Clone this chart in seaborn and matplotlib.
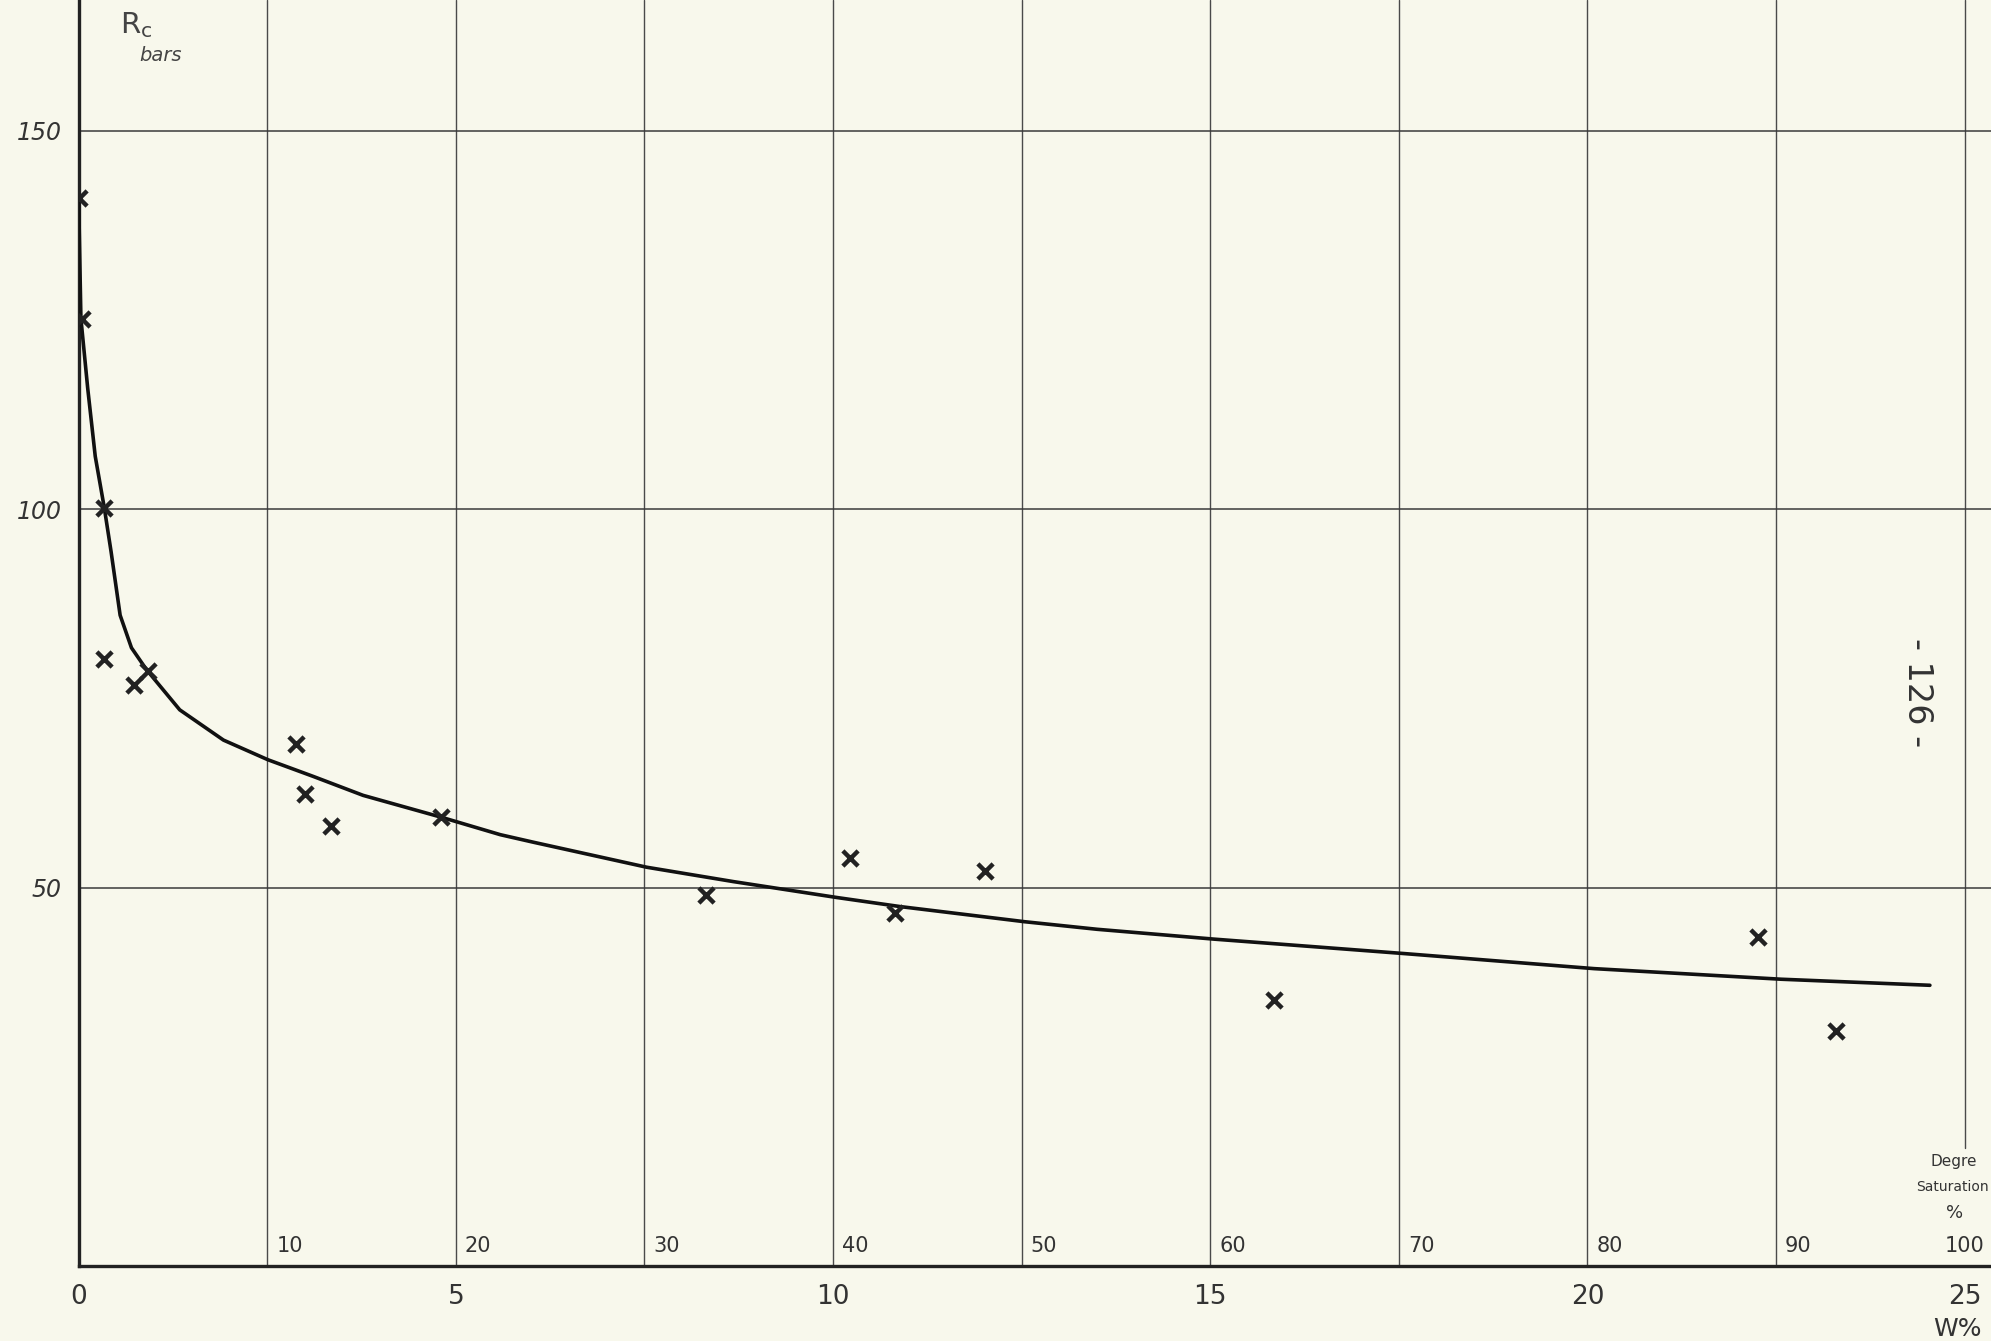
import pandas as pd
import seaborn as sns
import matplotlib.pyplot as plt

# measured points : water content W % / compressive strength Rc (bars)
w_points = [0.0, 0.05, 0.34, 0.34, 0.73, 0.92, 2.88, 3.00, 3.35, 4.80,
            8.32, 10.22, 10.82, 12.02, 15.84, 22.26, 23.30]
rc_points = [141.2, 125.2, 100.2, 80.2, 76.8, 78.6, 69.0, 62.4, 58.1, 59.4,
             49.0, 53.9, 46.6, 52.2, 35.2, 43.5, 31.0]

# hand drawn mean curve
w_curve = [0.0, 0.03, 0.12, 0.22, 0.34, 0.43, 0.55, 0.70, 0.90, 1.34, 1.92,
           2.51, 3.11, 3.77, 4.81, 5.59, 6.03, 7.53, 8.68, 10.05, 10.89,
           12.54, 13.5, 15.05, 17.56, 20.09, 22.57, 24.54]
rc_curve = [141.0, 125.2, 116.0, 107.0, 100.2, 94.4, 86.0, 81.7, 78.8, 73.5, 69.5,
            66.9, 64.7, 62.2, 59.3, 57.0, 56.0, 52.7, 50.8, 48.7, 47.5,
            45.5, 44.5, 43.2, 41.3, 39.3, 37.9, 37.1]

# secondary scale : degree of saturation %
sat_labels = [10, 20, 30, 40, 50, 60, 70, 80, 90, 100]
sat_w = [2.5, 5, 7.5, 10, 12.5, 15, 17.5, 20, 22.5, 25]
w_labels = [0, 5, 10, 15, 20, 25]
rc_labels = [50, 100, 150]

paper = '#f8f8ec'
ink = '#222222'
pencil = '#333333'

sns.set_style('white')
plt.rcParams['font.family'] = ['DejaVu Sans']

fig = plt.figure(figsize=(19.91, 13.41), dpi=100)
fig.patch.set_facecolor(paper)
ax = fig.add_axes([0.0395, 0.0559, 0.9605, 0.9441])
ax.set_facecolor(paper)
ax.set_xlim(0, 25.35)
ax.set_ylim(0, 167.3)

# grid of the sheet
for w in sat_w[:-1]:
    ax.axvline(w, color='#4a4a4a', lw=1.0, zorder=1)
ax.axvline(sat_w[-1], ymin=15.6 / 167.3, color='#4a4a4a', lw=1.0, zorder=1)
for r in rc_labels:
    ax.axhline(r, color='#3a3a3a', lw=1.1, zorder=1)

# curve and points
sns.lineplot(x=w_curve, y=rc_curve, ax=ax, color='#111111', lw=2.6,
             sort=False, estimator=None, zorder=3)
sns.scatterplot(x=w_points, y=rc_points, ax=ax, marker='x', s=120,
                color=ink, linewidth=3.2, zorder=4)

# axes
for side in ['top', 'right']:
    ax.spines[side].set_visible(False)
for side in ['left', 'bottom']:
    ax.spines[side].set_color(ink)
    ax.spines[side].set_linewidth(2.4)

ax.set_xticks([0] + sat_w)
ax.set_xticklabels([str(int(w)) if w in w_labels else '' for w in [0] + sat_w],
                   fontsize=19)
ax.set_yticks(rc_labels)
ax.set_yticklabels([str(r) for r in rc_labels], fontsize=17, style='italic')
ax.tick_params(axis='x', direction='out', length=10, width=1.6, pad=3, colors=ink,
               labelcolor=pencil)
ax.tick_params(axis='y', direction='out', length=8, width=1.6, pad=4, colors=ink,
               labelcolor=pencil)
ax.set_xlabel('')
ax.set_ylabel('')

# saturation labels above the W axis
for w, s in zip(sat_w, sat_labels):
    if s == 100:
        ax.text(w, 1.3, str(s), ha='center', va='bottom', fontsize=15, color=pencil)
    else:
        ax.text(w + 0.12, 1.3, str(s), ha='left', va='bottom', fontsize=15, color=pencil)

ax.text(24.85, 13.8, 'Degre', ha='center', va='center', fontsize=11, color=pencil)
ax.text(0.999, 10.4 / 167.3, 'Saturation', transform=ax.transAxes, ha='right',
        va='center', fontsize=10, color=pencil)
ax.text(24.87, 7.0, '%', ha='center', va='center', fontsize=13, color=pencil)
ax.text(24.9, -8.3, 'W%', ha='center', va='center', fontsize=18, color=pencil,
        clip_on=False)

ax.text(0.55, 164.0, r'R$_\mathregular{c}$', ha='left', va='center', fontsize=21,
        color='#444444')
ax.text(1.08, 159.9, 'bars', ha='center', va='center', fontsize=14,
        color='#444444', style='italic')

ax.text(24.38, 75.8, '- 126 -', ha='center', va='center', fontsize=24,
        rotation=-90, color=pencil)

fig.savefig('out.png', dpi=100, facecolor=paper)
